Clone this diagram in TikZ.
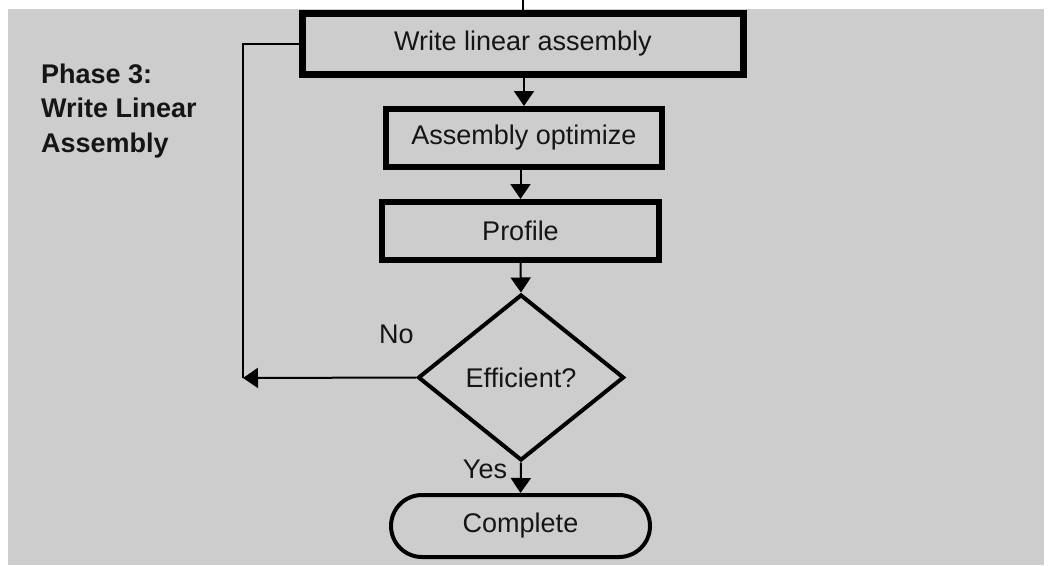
\documentclass[tikz,border=0pt]{standalone}
\usepackage{fontspec}
\setmainfont{Liberation Sans}
\usetikzlibrary{shapes.geometric,arrows.meta}
\definecolor{panel}{HTML}{CDCDCD}
\definecolor{ink}{HTML}{151515}
\begin{document}
\begin{tikzpicture}[x=1pt,y=-1pt,
  txt/.style={font=\fontsize{27}{32}\selectfont,text=ink},
  procbox/.style={draw=black,rectangle,txt,inner sep=0pt},
  link/.style={draw=black,line width=2pt},
  arr/.style={link,-{Triangle[width=20pt,length=15pt]}}]
  % page and grey panel
  \useasboundingbox (0,0) rectangle (1048,565);
  \fill[white] (0,0) rectangle (1048,565);
  \fill[panel] (8,9) rectangle (1044,565);

  % phase caption
  \node[anchor=north west,inner sep=0pt,align=left,text=ink,
        font=\fontsize{27}{34.5}\selectfont\bfseries] (phase) at (41,63.5)
        {Phase 3:\\Write Linear\\Assembly};

  % process steps
  \node[procbox,line width=7pt,minimum width=441pt,minimum height=61pt] (b1) at (523,44) {Write linear assembly};
  \node[procbox,line width=6pt,minimum width=276pt,minimum height=58pt] (b2) at (524,138) {Assembly optimize};
  \node[procbox,line width=6pt,minimum width=277pt,minimum height=58pt] (b3) at (520.5,231) {Profile};
  \node[draw=black,diamond,txt,line width=4pt,inner sep=0pt,minimum width=206pt,minimum height=166pt] (dec) at (521,377.5) {Efficient?};
  \node[draw=black,rectangle,rounded corners=31pt,txt,line width=4pt,minimum width=259pt,minimum height=62pt] (done) at (520.5,526) {Complete};

  % connectors
  \coordinate (entry) at (523,0);
  \coordinate (ret) at (243,378);
  \draw[link] (entry) -- (b1.north);
  \draw[arr] (b1.south -| b2) -- (b2.north);
  \draw[arr] (b2.south -| b3) -- (b3.north);
  \draw[arr] (b3.south) -- (dec.north);
  \draw[arr] (dec.south) -- (done.north);
  \draw[arr] (dec.west) -- (ret);
  \draw[link] (ret) |- (b1.west);

  % branch labels
  \node[txt,anchor=base,inner sep=0pt] (nolab) at (396.5,343) {No};
  \node[txt,anchor=base,inner sep=0pt] (yeslab) at (485,478) {Yes};
\end{tikzpicture}
\end{document}
